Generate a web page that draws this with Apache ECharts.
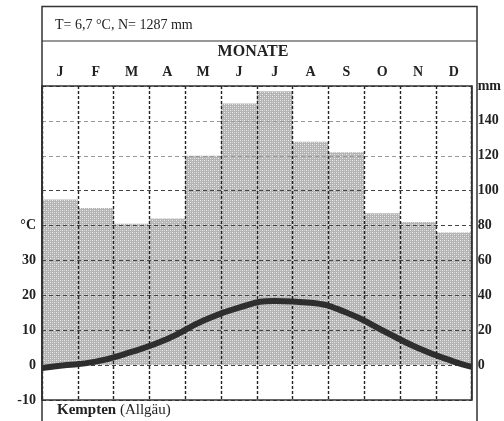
<!DOCTYPE html>
<html><head><meta charset="utf-8">
<script src="https://cdn.jsdelivr.net/npm/echarts@6/dist/echarts.min.js"></script>
<style>html,body{margin:0;padding:0;background:#fff}#c{width:504px;height:421px}</style>
</head><body><div id="c"></div>
<script>
const months = ['J','F','M','A','M','J','J','A','S','O','N','D'];
const precipitation = [95, 90, 81, 84, 120, 150, 157, 128, 122, 87, 82, 76];
const temperature = [-0.2, 1.0, 3.8, 7.5, 12.7, 16.5, 18.4, 17.9, 15.1, 10.0, 4.9, 1.0];
const tempYearStart = -0.8, tempYearEnd = -0.5;
const tempTicks = [-10, 0, 10, 20, 30];
const mmTicks = [0, 20, 40, 60, 80, 100, 120, 140];
const titleText = 'T= 6,7 °C, N= 1287 mm';
const station = 'Kempten', region = ' (Allgäu)';

// stipple pattern for the bars
const pc = document.createElement('canvas');
pc.width = 4; pc.height = 4;
const px = pc.getContext('2d');
px.fillStyle = '#b4b4b4'; px.fillRect(0,0,4,4);
px.fillStyle = '#ececec'; px.fillRect(0,0,1,1); px.fillRect(2,2,1,1);
px.fillStyle = '#d2d2d2'; px.fillRect(2,0,1,1); px.fillRect(0,2,1,1);

const linePts = [[0, tempYearStart]].concat(temperature.map((t,i)=>[i+0.5,t])).concat([[12, tempYearEnd]]);

const serif = '"Liberation Serif","DejaVu Serif",serif';
const chart = echarts.init(document.getElementById('c'));
const hColors = ['#333','#444','#444','#444','#444','#444','#444','#999','#999','#333'];
chart.setOption({
  animation:false,
  grid:{left:42,right:27,top:86,bottom:21,show:true,borderColor:'#333',borderWidth:1.5,z:4},
  xAxis:[
    {type:'category',data:months,position:'top',boundaryGap:true,z:3,
     axisLine:{show:false},axisTick:{show:false},
     axisLabel:{margin:7,interval:0,fontFamily:serif,fontWeight:'bold',fontSize:14,color:'#222'},
     splitLine:{show:true,interval:0,lineStyle:{color:'#222',type:[3,2],width:1.4}}},
    {type:'value',min:0,max:12,show:false}
  ],
  yAxis:[
    {type:'value',min:-10,max:80,interval:10,position:'left',
     axisLine:{show:true,lineStyle:{color:'#333',width:1.5}},axisTick:{show:false},splitLine:{show:false},
     axisLabel:{margin:6,fontFamily:serif,fontWeight:'bold',fontSize:14,color:'#222',padding:[0,0,6,0],
       formatter:v=> v===40?'°C':(tempTicks.indexOf(v)>=0?String(v):'')}},
    {type:'value',min:-20,max:160,interval:20,position:'right',z:3,
     axisLine:{show:true,lineStyle:{color:'#333',width:1.5}},axisTick:{show:false},
     splitLine:{show:true,lineStyle:{color:hColors,type:[4,3],width:1.2}},
     axisLabel:{margin:6,fontFamily:serif,fontWeight:'bold',fontSize:14,color:'#222',padding:[4,0,0,0],
       formatter:v=> v===160?'mm':(mmTicks.indexOf(v)>=0?String(v):'')}}
  ],
  series:[
    {type:'bar',data:precipitation,xAxisIndex:0,yAxisIndex:1,barCategoryGap:'0%',z:1,
     itemStyle:{color:{image:pc,repeat:'repeat'}}},
    {type:'line',data:linePts,xAxisIndex:1,yAxisIndex:0,smooth:true,showSymbol:false,z:10,
     lineStyle:{color:'#2e2e2e',width:6}}
  ],
  graphic:[
    {type:'rect',shape:{x:42,y:6.5,width:435,height:430},style:{fill:'none',stroke:'#333',lineWidth:1.5},z:5},
    {type:'line',shape:{x1:42,y1:41,x2:477,y2:41},style:{stroke:'#333',lineWidth:1.2},z:5},
    {type:'text',x:55,y:25,style:{text:titleText,font:'14px '+serif,fill:'#222',textVerticalAlign:'middle'},z:5},
    {type:'text',x:253,y:52,style:{text:'MONATE',font:'bold 16px '+serif,fill:'#222',textAlign:'center',textVerticalAlign:'middle'},z:5},
    {type:'text',x:57,y:410,style:{rich:{b:{fontFamily:serif,fontWeight:'bold',fontSize:15,fill:'#222'},n:{fontFamily:serif,fontSize:15,fill:'#222'}},
      text:'{b|'+station+'}{n|'+region+'}',textVerticalAlign:'middle'},z:5}
  ]
});
</script></body></html>
